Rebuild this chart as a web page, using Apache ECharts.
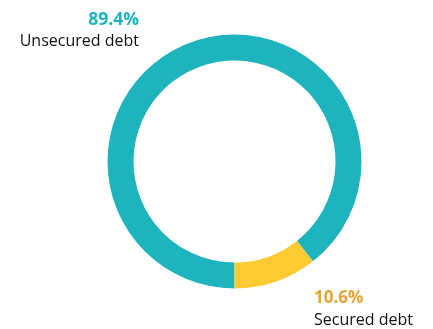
<!DOCTYPE html>
<html><head><meta charset="utf-8">
<script src="https://cdn.jsdelivr.net/npm/echarts@6/dist/echarts.min.js"></script>
<style>html,body{margin:0;padding:0;background:#fff}#c{width:433px;height:329px}</style>
</head><body><div id="c"></div>
<script>
const categories = ['Unsecured debt', 'Secured debt'];
const values = [89.4, 10.6];
const sliceColors = ['#1db4be', '#ffcb32'];
const pctColors = ['#1db4be', '#e6a33a'];

const chart = echarts.init(document.getElementById('c'));
const font = '"Open Sans", "Noto Sans", sans-serif';
chart.setOption({
  animation: false,
  series: [{
    type: 'pie',
    center: [234.5, 161.5],
    radius: [101, 127],
    startAngle: 270,
    clockwise: true,
    silent: true,
    label: { show: false },
    labelLine: { show: false },
    data: categories.map((c, i) => ({ name: c, value: values[i], itemStyle: { color: sliceColors[i] } }))
  }],
  graphic: [
    { type: 'text', x: 139, y: 11, style: { text: values[0].toFixed(1) + '%', fill: pctColors[0], font: 'bold 17.5px ' + font, textAlign: 'right', textVerticalAlign: 'top' } },
    { type: 'text', x: 139, y: 33, style: { text: categories[0], fill: '#111', font: '16px ' + font, textAlign: 'right', textVerticalAlign: 'top' } },
    { type: 'text', x: 314, y: 290, style: { text: values[1].toFixed(1) + '%', fill: pctColors[1], font: 'bold 17px ' + font, textAlign: 'left', textVerticalAlign: 'top' } },
    { type: 'text', x: 314, y: 312, style: { text: categories[1], fill: '#111', font: '16px ' + font, textAlign: 'left', textVerticalAlign: 'top' } }
  ]
});
</script></body></html>
